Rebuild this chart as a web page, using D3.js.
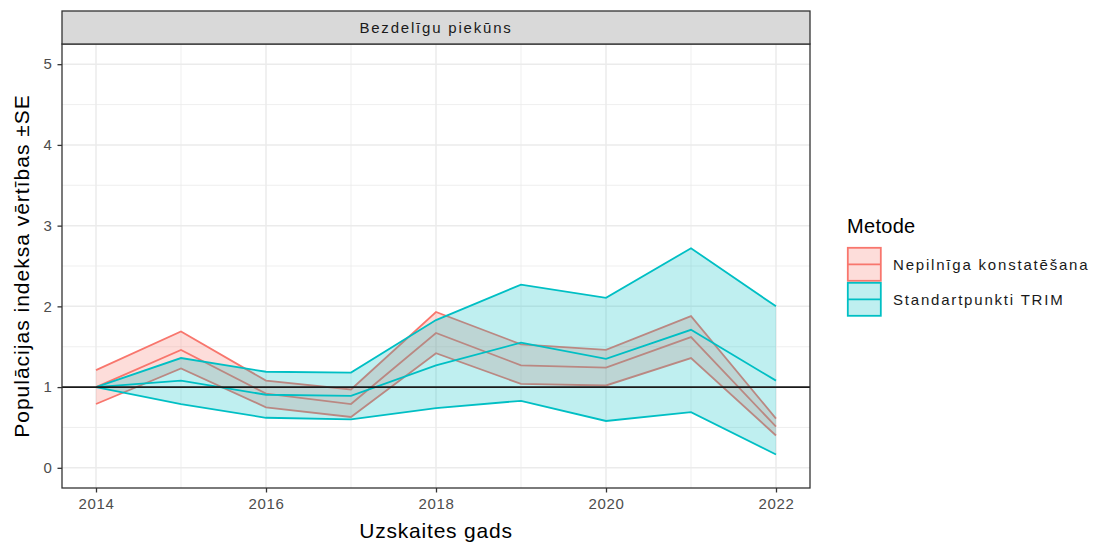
<!DOCTYPE html>
<html>
<head>
<meta charset="utf-8">
<script src="https://cdn.jsdelivr.net/npm/d3@7"></script>
<style>
  body { margin: 0; background: #fff; }
  text { font-family: "Liberation Sans", Arial, sans-serif; }
</style>
</head>
<body>
<div id="chart"></div>
<script>
// data
var years = [2014, 2015, 2016, 2017, 2018, 2019, 2020, 2021, 2022];
var nkMean  = [1.00, 1.46, 0.92, 0.79, 1.67, 1.27, 1.24, 1.62, 0.51];
var nkLower = [0.79, 1.23, 0.75, 0.63, 1.42, 1.04, 1.02, 1.36, 0.40];
var nkUpper = [1.21, 1.69, 1.08, 0.97, 1.93, 1.53, 1.46, 1.88, 0.61];
var trimMean  = [1.00, 1.08, 0.905, 0.89, 1.27, 1.55, 1.35, 1.71, 1.08];
var trimLower = [1.00, 0.79, 0.62, 0.60, 0.74, 0.83, 0.58, 0.69, 0.165];
var trimUpper = [1.00, 1.36, 1.19, 1.18, 1.83, 2.27, 2.105, 2.72, 2.00];
var methods = ["Nepilnīga konstatēšana", "Standartpunkti TRIM"];
var colors = ["#F8766D", "#00BFC4"];
var xTicks = [2014, 2016, 2018, 2020, 2022];
var yTicks = [0, 1, 2, 3, 4, 5];
var facetLabel = "Bezdelīgu piekūns";
var xTitle = "Uzskaites gads";
var yTitle = "Populācijas indeksa vērtības ±SE";
var legendTitle = "Metode";
var refValue = 1;

var W = 1094, H = 548,
  panel = { left: 62, right: 810, top: 44, bottom: 488 },
  strip = { top: 11, bottom: 44 };

var svg = d3.select("#chart").append("svg")
  .attr("width", W)
  .attr("height", H);

var x = d3.scaleLinear().domain([2013.6, 2022.4]).range([panel.left, panel.right]);
var y = d3.scaleLinear().domain([-0.25, 5.25]).range([panel.bottom, panel.top]);

// grid
var grid = svg.append("g");
var minorX = [2015, 2017, 2019, 2021];
var minorY = [0.5, 1.5, 2.5, 3.5, 4.5];
grid.selectAll(".mx").data(minorX).enter().append("line")
  .attr("x1", d => x(d)).attr("x2", d => x(d))
  .attr("y1", panel.top).attr("y2", panel.bottom)
  .attr("stroke", "#EBEBEB").attr("stroke-width", 0.8);
grid.selectAll(".my").data(minorY).enter().append("line")
  .attr("y1", d => y(d)).attr("y2", d => y(d))
  .attr("x1", panel.left).attr("x2", panel.right)
  .attr("stroke", "#EBEBEB").attr("stroke-width", 0.8);
grid.selectAll(".gx").data(xTicks).enter().append("line")
  .attr("x1", d => x(d)).attr("x2", d => x(d))
  .attr("y1", panel.top).attr("y2", panel.bottom)
  .attr("stroke", "#EBEBEB").attr("stroke-width", 1.5);
grid.selectAll(".gy").data(yTicks).enter().append("line")
  .attr("y1", d => y(d)).attr("y2", d => y(d))
  .attr("x1", panel.left).attr("x2", panel.right)
  .attr("stroke", "#EBEBEB").attr("stroke-width", 1.5);

// series
var series = [
  { name: methods[0], color: colors[0], mean: nkMean, lower: nkLower, upper: nkUpper },
  { name: methods[1], color: colors[1], mean: trimMean, lower: trimLower, upper: trimUpper }
];

var area = d3.area()
  .x(d => x(d.year))
  .y0(d => y(d.lo))
  .y1(d => y(d.hi));
var line = d3.line()
  .x(d => x(d.year))
  .y(d => y(d.v));

series.forEach(function (s) {
  var rows = years.map(function (yr, i) {
    return { year: yr, lo: s.lower[i], hi: s.upper[i], m: s.mean[i] };
  });
  var g = svg.append("g");
  g.append("path").datum(rows)
    .attr("d", area)
    .attr("fill", s.color).attr("fill-opacity", 0.25);
  ["lo", "hi", "m"].forEach(function (k) {
    g.append("path")
      .datum(rows.map(r => ({ year: r.year, v: r[k] })))
      .attr("d", line)
      .attr("fill", "none")
      .attr("stroke", s.color)
      .attr("stroke-width", 1.8);
  });
});

// reference line
svg.append("line")
  .attr("x1", panel.left).attr("x2", panel.right)
  .attr("y1", y(refValue)).attr("y2", y(refValue))
  .attr("stroke", "#1a1a1a").attr("stroke-width", 1.7);

// panel border
svg.append("rect")
  .attr("x", panel.left).attr("y", panel.top)
  .attr("width", panel.right - panel.left).attr("height", panel.bottom - panel.top)
  .attr("fill", "none").attr("stroke", "#333").attr("stroke-width", 1.3);

// strip
svg.append("rect")
  .attr("x", panel.left).attr("y", strip.top)
  .attr("width", panel.right - panel.left).attr("height", strip.bottom - strip.top)
  .attr("fill", "#D9D9D9").attr("stroke", "#333").attr("stroke-width", 1.3);
svg.append("text")
  .attr("x", (panel.left + panel.right) / 2).attr("y", 33)
  .attr("text-anchor", "middle")
  .style("font-size", "15px").style("letter-spacing", "1.8px")
  .attr("fill", "#1A1A1A")
  .text(facetLabel);

// axes
var xAxis = svg.append("g")
  .attr("transform", "translate(0," + panel.bottom + ")")
  .call(d3.axisBottom(x).tickValues(xTicks).tickFormat(d3.format("d")).tickSize(4.5).tickPadding(6));
var yAxis = svg.append("g")
  .attr("transform", "translate(" + panel.left + ",0)")
  .call(d3.axisLeft(y).tickValues(yTicks).tickFormat(d3.format("d")).tickSize(4.5).tickPadding(5));
[xAxis, yAxis].forEach(function (a) {
  a.select(".domain").remove();
  a.selectAll(".tick line").attr("stroke", "#333").attr("stroke-width", 1.3);
  a.selectAll(".tick text")
    .attr("fill", "#4D4D4D")
    .style("font-size", "15px")
    .style("font-family", "'Liberation Sans', Arial, sans-serif")
    .style("letter-spacing", "0.6px");
});

svg.append("text")
  .attr("x", (panel.left + panel.right) / 2).attr("y", 538)
  .attr("text-anchor", "middle")
  .style("font-size", "21px").style("letter-spacing", "0.8px")
  .text(xTitle);
svg.append("text")
  .attr("transform", "translate(29," + ((panel.top + panel.bottom) / 2) + ") rotate(-90)")
  .attr("text-anchor", "middle")
  .style("font-size", "21px").style("letter-spacing", "1px")
  .text(yTitle);

// legend
var legend = svg.append("g").attr("transform", "translate(847,0)");
legend.append("text")
  .attr("x", 0).attr("y", 233)
  .style("font-size", "20px").style("letter-spacing", "0.3px")
  .text(legendTitle);
var keys = legend.selectAll(".key").data(series).enter().append("g")
  .attr("class", "key")
  .attr("transform", (d, i) => "translate(0," + (247 + i * 35) + ")");
keys.append("rect")
  .attr("x", 0.8).attr("y", 0.8).attr("width", 33).attr("height", 33)
  .attr("fill", d => d.color).attr("fill-opacity", 0.25)
  .attr("stroke", d => d.color).attr("stroke-width", 1.8);
keys.append("line")
  .attr("x1", 1).attr("x2", 34).attr("y1", 17.3).attr("y2", 17.3)
  .attr("stroke", d => d.color).attr("stroke-width", 1.8);
keys.append("text")
  .attr("x", 46).attr("y", 23)
  .style("font-size", "15px").style("letter-spacing", "1.8px")
  .attr("fill", "#1A1A1A")
  .text(d => d.name);
</script>
</body>
</html>
